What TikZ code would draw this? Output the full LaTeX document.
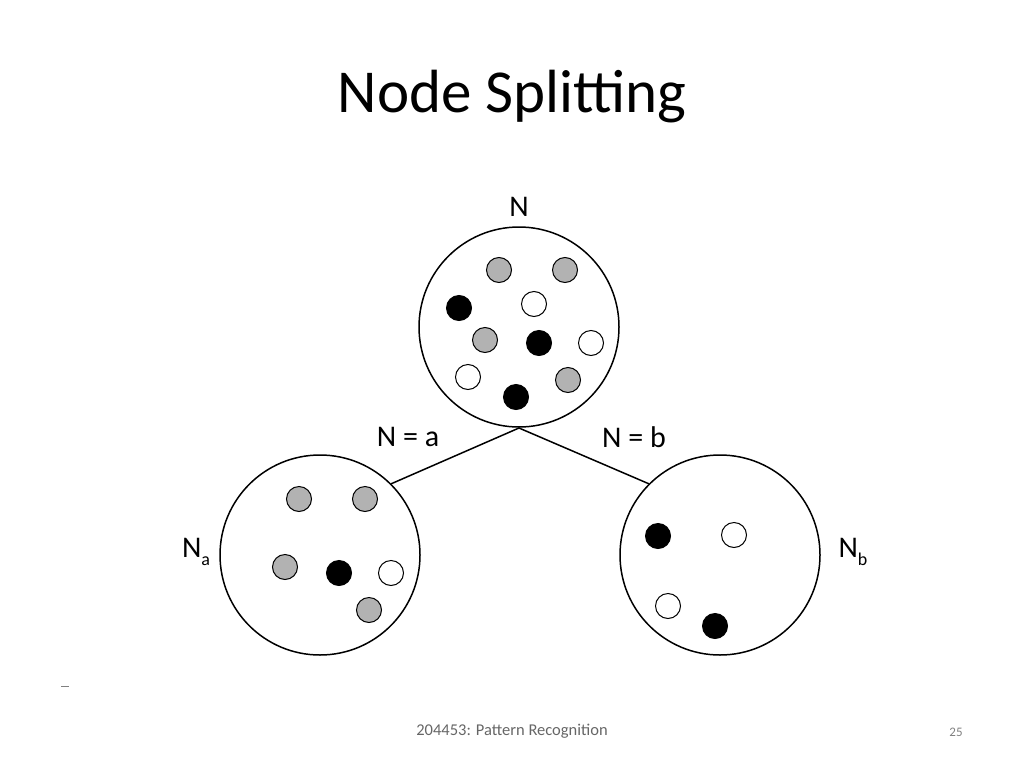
\documentclass[tikz,border=0pt]{standalone}
\usepackage{fontspec}
\setmainfont{Carlito}
\newcommand{\mysub}[1]{\raisebox{-0.25em}{\fontsize{18}{20}\selectfont #1}}
\begin{document}
\begin{tikzpicture}[x=1pt,y=-1pt,
  big/.style={circle,draw,line width=1.5pt,minimum size=200pt,inner sep=0pt},
  dot/.style={circle,draw,line width=1pt,minimum size=25pt,inner sep=0pt},
  gdot/.style={dot,fill=gray!60},
  bdot/.style={dot,fill=black},
  wdot/.style={dot,fill=white},
  lbl/.style={font=\fontsize{30}{32}\selectfont},
  edge/.style={line width=1.5pt}]
\useasboundingbox (0,0) rectangle (1024,768);
\node (title) at (512,97) {\fontsize{61}{64}\selectfont Node Splitting};
\node[big] (N) at (519,327) {};
\node[big] (Na) at (320,555) {};
\node[big] (Nb) at (720,555) {};
\coordinate (j) at (519,428);
\draw[edge] (j) -- (Na.45);
\draw[edge] (j) -- (Nb.135);
\node[lbl] (lN) at (519,207) {N};
\node[lbl] (la) at (408,437) {N = a};
\node[lbl] (lb) at (634,437) {N = b};
\node[lbl] (lNa) at (196,552) {N\mysub{a}};
\node[lbl] (lNb) at (853,552) {N\mysub{b}};
\node[gdot] (d1) at (499,270) {};
\node[gdot] (d2) at (565,270) {};
\node[bdot] (d3) at (459,308) {};
\node[wdot] (d4) at (534,304) {};
\node[gdot] (d5) at (485,340) {};
\node[bdot] (d6) at (539,343) {};
\node[wdot] (d7) at (591,343) {};
\node[wdot] (d8) at (468,377) {};
\node[gdot] (d9) at (568,380) {};
\node[bdot] (d10) at (516,397) {};
\node[gdot] (a1) at (299,499) {};
\node[gdot] (a2) at (365,499) {};
\node[gdot] (a3) at (285,567) {};
\node[bdot] (a4) at (339,573) {};
\node[wdot] (a5) at (391,573) {};
\node[gdot] (a6) at (369,610) {};
\node[bdot] (b1) at (658,536) {};
\node[wdot] (b2) at (734,535) {};
\node[wdot] (b3) at (668,606) {};
\node[bdot] (b4) at (715,626) {};
\coordinate (m1) at (61,686); \coordinate (m2) at (69,686);
\draw[line width=1pt,gray] (m1) -- (m2);
\node[text=gray!80!black] (foot) at (512,731) {\fontsize{16.5}{18}\selectfont 204453: Pattern Recognition};
\node[text=gray] (pg) at (956,732) {\fontsize{13}{14}\selectfont 25};
\end{tikzpicture}
\end{document}
